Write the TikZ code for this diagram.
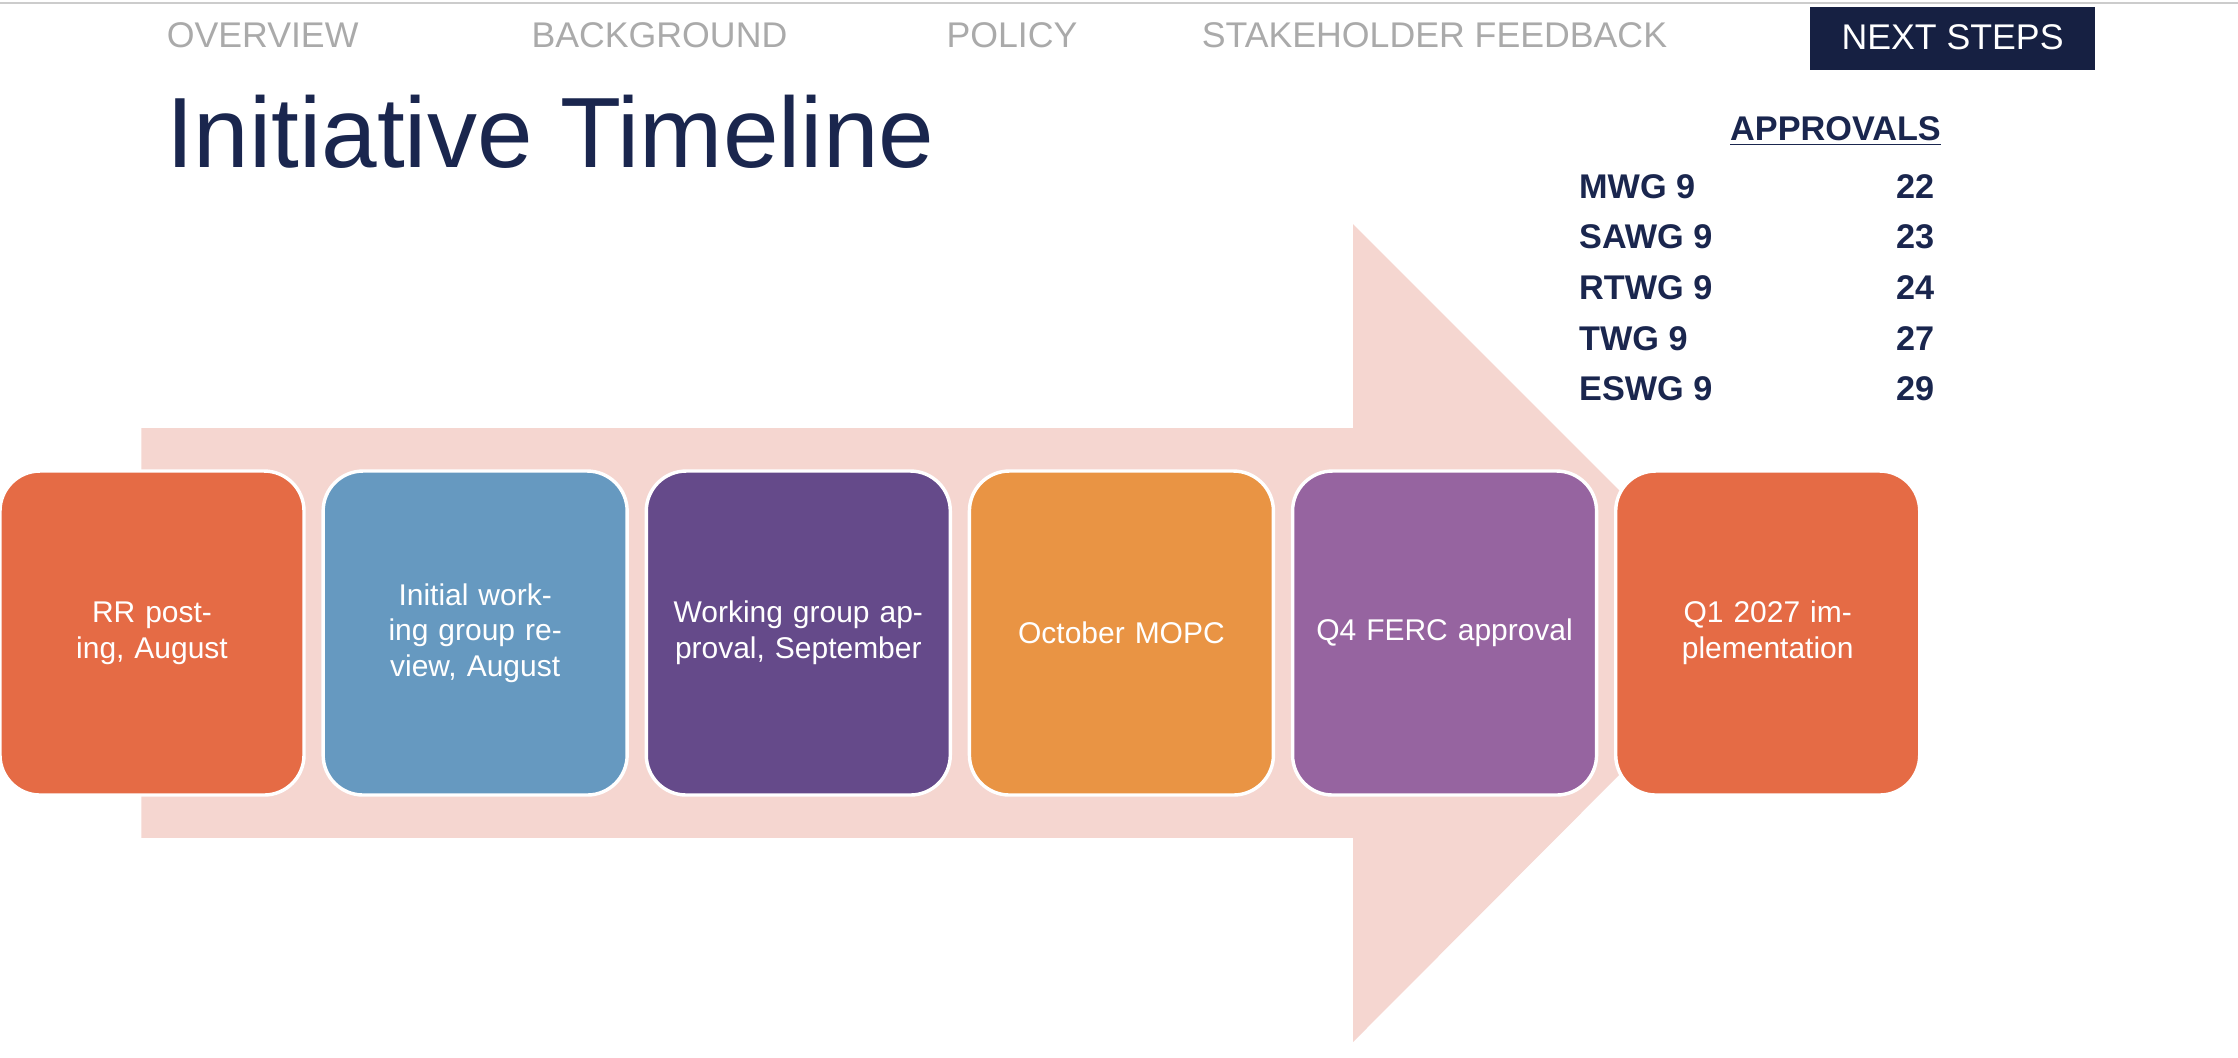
\documentclass[tikz,border=0pt]{standalone}
\usepackage{fontspec}
\setmainfont{Liberation Sans}
\usetikzlibrary{positioning}
\definecolor{navy}{RGB}{26,38,78}
\definecolor{menugray}{RGB}{170,170,170}
\definecolor{arrowpink}{RGB}{245,214,208}
\definecolor{cOrange}{RGB}{229,107,69}
\definecolor{cBlue}{RGB}{102,153,192}
\definecolor{cPurple}{RGB}{101,74,138}
\definecolor{cAmber}{RGB}{233,148,68}
\definecolor{cViolet}{RGB}{150,100,160}
\tikzset{
  phase/.style={draw=white, line width=1.2pt, rounded corners=14pt, minimum width=106.5pt,
    minimum height=113.5pt, text width=90pt, align=center, text=white, font=\fontsize{10.5}{12.5}\selectfont},
  menu/.style={text=menugray, font=\fontsize{12.5}{14}\selectfont},
  appr/.style={anchor=west, text=navy, font=\bfseries\fontsize{12}{14}\selectfont, inner sep=0pt}
}
\begin{document}
\begin{tikzpicture}[x=0.5pt,y=-0.5pt]
    \useasboundingbox (0,0) rectangle (1568,741);
    \fill[white] (0,0) rectangle (1568,741);
    \draw[menugray!60, line width=0.6pt] (0,2) -- (1568,2);

    % menu
    \node[menu] (ov) at (184,25) {OVERVIEW};
    \node[menu] (bg) at (462,25) {BACKGROUND};
    \node[menu] (po) at (709,25) {POLICY};
    \node[menu] (sf) at (1005,25) {STAKEHOLDER FEEDBACK};
    \fill[navy!85!black] (1268,5) rectangle (1468,49);
    \node[text=white, font=\fontsize{12.5}{14}\selectfont] (ns) at (1368,26) {NEXT STEPS};

    % title
    \node[anchor=west, text=navy, font=\fontsize{35}{40}\selectfont, inner sep=0pt] (title) at (116,92) {Initiative Timeline};

    % big arrow
    \fill[arrowpink] (99,300) -- (948,300) -- (948,157) -- (1234,443) -- (948,730) -- (948,587) -- (99,587) -- cycle;

    % phases
    \node[phase, fill=cOrange] (s1) at (106.5,443.5) {RR posting, August};
    \node[phase, fill=cBlue, right=5.5pt of s1] (s2) {Initial working group review, August};
    \node[phase, fill=cPurple, right=5.5pt of s2] (s3) {Working group approval, September};
    \node[phase, fill=cAmber, right=5.5pt of s3] (s4) {October MOPC};
    \node[phase, fill=cViolet, right=5.5pt of s4] (s5) {Q4 FERC approval};
    \node[phase, fill=cOrange, right=5.5pt of s5] (s6) {Q1 2027 implementation};

    % approvals
    \node[text=navy, font=\bfseries\fontsize{12}{14}\selectfont, inner sep=0pt] (ap) at (1286,92) {\underline{APPROVALS}};
    \foreach \a/\b [count=\i] in {MWG 9/22/CAWG 10/1, SAWG 9/23/ORWG 10/8, RTWG 9/24/MOPC 10/13,
        TWG 9/27/RSC 11/16, ESWG 9/29/BOD 11/16} {
      \node[appr] (l\i) at (1106,{95+35.5*\i}) {\a};
      \node[appr] (r\i) at (1328,{95+35.5*\i}) {\b};
    }
\end{tikzpicture}
\end{document}
